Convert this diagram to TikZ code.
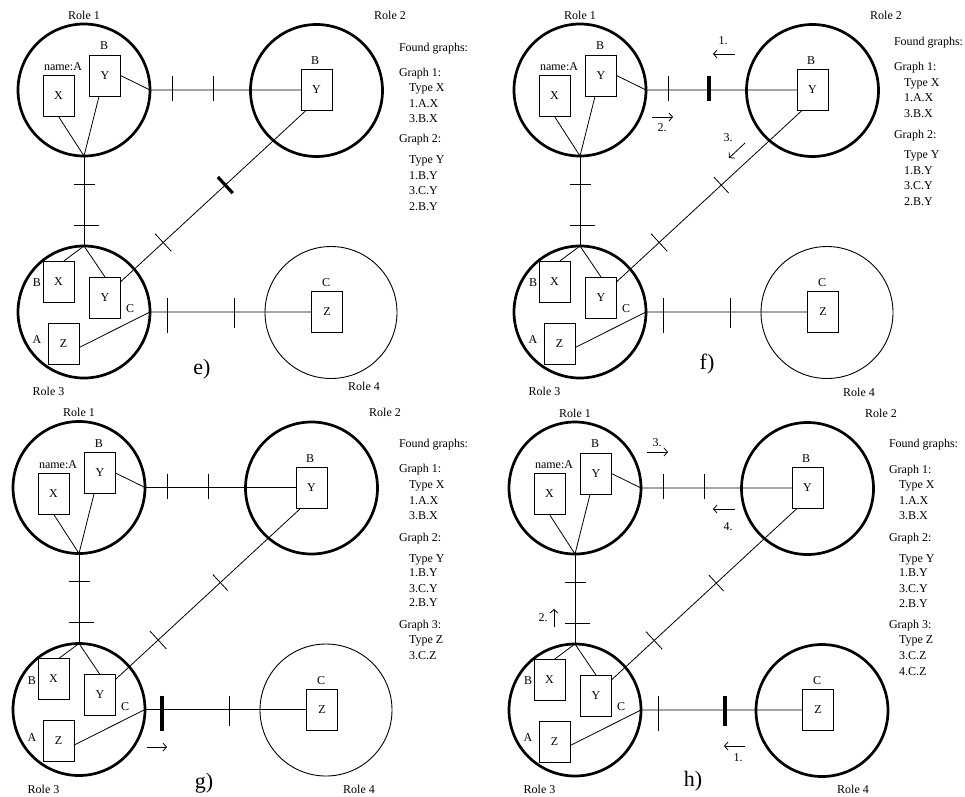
\documentclass[tikz,border=0pt]{standalone}
\usepackage{fontspec}
\setmainfont{Liberation Serif}
\usetikzlibrary{calc,arrows.meta}
\tikzset{
  rolebig/.style={circle, draw, inner sep=0pt, outer sep=0pt, minimum size=132pt, line width=2.7pt},
  rolethin/.style={circle, draw, inner sep=0pt, outer sep=0pt, minimum size=132pt, line width=0.9pt},
  typebox/.style={draw, line width=0.8pt, minimum width=31pt, minimum height=41pt, inner sep=0pt, outer sep=0pt, font=\fontsize{12}{14}\selectfont},
  lbl/.style={inner sep=0pt, outer sep=0pt, font=\fontsize{12}{14}\selectfont},
  txt/.style={inner sep=0pt, outer sep=0pt, anchor=base west, font=\fontsize{12}{14}\selectfont},
  plbl/.style={inner sep=0pt, outer sep=0pt, anchor=base, font=\fontsize{22}{24}\selectfont},
  conn/.style={line width=0.8pt},
  tkthin/.style={line width=0.8pt},
  tkthick/.style={line width=3.2pt},
  msg/.style={line width=0.8pt, -{Straight Barb[length=3.5pt,width=8pt]}}
}
% #1 prefix, #2 #3 shift, #4 #5 top ticks, #6 upper diagonal tick, #7 #8 bottom ticks, #9 circle 4 style
\newcommand\panel[9]{%
\begin{scope}[shift={(#2,#3)}]
  \node[rolebig] (#1c1) at (84,90) {};
  \node[rolebig] (#1c2) at (316.5,90.5) {};
  \node[rolebig] (#1c3) at (84,312) {};
  \node[#9] (#1c4) at (331,312.5) {};
  \node[lbl] (#1r1) at (84,15) {Role 1};
  \node[lbl] (#1r2) at (390,15) {Role 2};
  \node[lbl] (#1r3) at (48.5,391.5) {Role 3};
  \node[typebox] (#1x1) at (58.5,96) {X};
  \node[typebox] (#1y1) at (105,75.5) {Y};
  \node[typebox] (#1y2) at (316.5,90) {Y};
  \node[typebox] (#1x3) at (58.5,281.5) {X};
  \node[typebox] (#1y3) at (105,297.5) {Y};
  \node[typebox] (#1z3) at (63.5,343.5) {Z};
  \node[typebox] (#1z4) at (327,312) {Z};
  \node[lbl] (#1na) at (63,67) {name:A};
  \node[lbl] (#1b1) at (104,46) {B};
  \node[lbl] (#1b2) at (315,61) {B};
  \node[lbl] (#1b3) at (37,283) {B};
  \node[lbl] (#1cc3) at (130,309) {C};
  \node[lbl] (#1a3) at (37,340) {A};
  \node[lbl] (#1cc4) at (326,283) {C};
  % connectors
  \draw[conn] (#1x1.south) -- (#1c1.south);
  \draw[conn] ($(#1y1.south west)!0.31!(#1y1.south east)$) -- (#1c1.south);
  \draw[conn] (#1y1.east) -- (#1c1.east) -- (#1y2.west);
  \draw[conn] (#1c1.south) -- (#1c3.north);
  \draw[conn] (#1c3.north) -- ($(#1x3.north west)!0.67!(#1x3.north east)$);
  \draw[conn] (#1c3.north) -- (#1y3.north);
  \coordinate (#1d1) at ($(#1y2.south west)!0.16!(#1y2.south east)$);
  \coordinate (#1d2) at ($(#1y3.north east)!0.12!(#1y3.south east)$);
  \draw[conn] (#1d1) -- (#1d2);
  \draw[conn] ($(#1z3.north east)!0.6!(#1z3.south east)$) -- (#1c3.east) -- (#1z4.west);
  % ticks
  \draw[#4] ($(#1c1.east)+(22,-14)$) -- ($(#1c1.east)+(22,11)$);
  \draw[#5] ($(#1c1.east)+(63,-14)$) -- ($(#1c1.east)+(63,11)$);
  \draw[tkthin] ($(#1c1.south)+(-10,28)$) -- ($(#1c1.south)+(11,28)$);
  \draw[tkthin] ($(#1c1.south)+(-10,69)$) -- ($(#1c1.south)+(15,69)$);
  \coordinate (#1t1) at ($(#1d1)!0.435!(#1d2)$);
  \coordinate (#1t2) at ($(#1d1)!0.77!(#1d2)$);
  \draw[#6] ($(#1t1)!11pt!90:(#1d2)$) -- ($(#1t1)!11pt!-90:(#1d2)$);
  \draw[tkthin] ($(#1t2)!12pt!90:(#1d2)$) -- ($(#1t2)!12pt!-90:(#1d2)$);
  \draw[#7] ($(#1c3.east)+(17,-14)$) -- ($(#1c3.east)+(17,21)$);
  \draw[#8] ($(#1c3.east)+(84,-14)$) -- ($(#1c3.east)+(84,16)$);
\end{scope}}
\begin{document}
\begin{tikzpicture}[x=1pt,y=-1pt]
\useasboundingbox (0,0) rectangle (965,796);
\panel{e}{0}{0}{tkthin}{tkthin}{tkthick}{tkthin}{tkthin}{rolethin}
\panel{f}{496}{0}{tkthin}{tkthick}{tkthin}{tkthin}{tkthin}{rolethin}
\panel{g}{-5}{397.5}{tkthin}{tkthin}{tkthin}{tkthick}{tkthin}{rolethin}
\panel{h}{491}{398}{tkthin}{tkthin}{tkthin}{tkthin}{tkthick}{rolebig}
% Role 4 labels
\node[lbl] (er4) at (364,386) {Role 4};
\node[lbl] (fr4) at (859,392) {Role 4};
\node[lbl] (gr4) at (359,789) {Role 4};
\node[lbl] (hr4) at (853,789) {Role 4};
% panel letters
\node[plbl] (ep) at (202,374) {e)};
\node[plbl] (fp) at (707,369) {f)};
\node[plbl] (gp) at (204,788) {g)};
\node[plbl] (hp) at (693,786) {h)};
% found graphs e
\node[txt] (ef0) at (399,51) {Found graphs:};
\node[txt] (ef1) at (399,76) {Graph 1:};
\node[txt] (ef2) at (409,91) {Type X};
\node[txt] (ef3) at (409,107) {1.A.X};
\node[txt] (ef4) at (409,122) {3.B.X};
\node[txt] (ef5) at (399,142) {Graph 2:};
\node[txt] (ef6) at (409,163) {Type Y};
\node[txt] (ef7) at (409,179) {1.B.Y};
\node[txt] (ef8) at (409,194) {3.C.Y};
\node[txt] (ef9) at (409,210) {2.B.Y};
% found graphs f
\node[txt] (ff0) at (894,45) {Found graphs:};
\node[txt] (ff1) at (894,70) {Graph 1:};
\node[txt] (ff2) at (904,86) {Type X};
\node[txt] (ff3) at (904,101) {1.A.X};
\node[txt] (ff4) at (904,117) {3.B.X};
\node[txt] (ff5) at (894,138) {Graph 2:};
\node[txt] (ff6) at (904,158) {Type Y};
\node[txt] (ff7) at (904,174) {1.B.Y};
\node[txt] (ff8) at (904,189) {3.C.Y};
\node[txt] (ff9) at (904,205) {2.B.Y};
% found graphs g
\node[txt] (gf0) at (399,447) {Found graphs:};
\node[txt] (gf1) at (399,472) {Graph 1:};
\node[txt] (gf2) at (409,488) {Type X};
\node[txt] (gf3) at (409,504) {1.A.X};
\node[txt] (gf4) at (409,519) {3.B.X};
\node[txt] (gf5) at (399,541) {Graph 2:};
\node[txt] (gf6) at (409,562) {Type Y};
\node[txt] (gf7) at (409,576) {1.B.Y};
\node[txt] (gf8) at (409,592) {3.C.Y};
\node[txt] (gf9) at (409,606) {2.B.Y};
\node[txt] (gf10) at (399,628) {Graph 3:};
\node[txt] (gf11) at (409,643) {Type Z};
\node[txt] (gf12) at (409,659) {3.C.Z};
% found graphs h
\node[txt] (hf0) at (889,447) {Found graphs:};
\node[txt] (hf1) at (889,473) {Graph 1:};
\node[txt] (hf2) at (899,488) {Type X};
\node[txt] (hf3) at (899,504) {1.A.X};
\node[txt] (hf4) at (899,519) {3.B.X};
\node[txt] (hf5) at (889,541) {Graph 2:};
\node[txt] (hf6) at (899,562) {Type Y};
\node[txt] (hf7) at (899,576) {1.B.Y};
\node[txt] (hf8) at (899,592) {3.C.Y};
\node[txt] (hf9) at (899,607) {2.B.Y};
\node[txt] (hf10) at (889,628) {Graph 3:};
\node[txt] (hf11) at (899,643) {Type Z};
\node[txt] (hf12) at (899,659) {3.C.Z};
\node[txt] (hf13) at (899,675) {4.C.Z};
% message arrows f
\coordinate (fa1s) at (735,54); \coordinate (fa1e) at (713,54);
\draw[msg] (fa1s) -- (fa1e);
\node[lbl] (fn1) at (723,41) {1.};
\coordinate (fa2s) at (652,117); \coordinate (fa2e) at (673,117);
\draw[msg] (fa2s) -- (fa2e);
\node[lbl] (fn2) at (662,128) {2.};
\coordinate (fa3s) at (745,143); \coordinate (fa3e) at (729,158);
\draw[msg] (fa3s) -- (fa3e);
\node[lbl] (fn3) at (728,138) {3.};
% message arrow g
\coordinate (ga1s) at (147,747); \coordinate (ga1e) at (167,747);
\draw[msg] (ga1s) -- (ga1e);
% message arrows h
\coordinate (ha3s) at (647,452); \coordinate (ha3e) at (668,452);
\draw[msg] (ha3s) -- (ha3e);
\node[lbl] (hn3) at (657,443) {3.};
\coordinate (ha4s) at (735,509); \coordinate (ha4e) at (713,509);
\draw[msg] (ha4s) -- (ha4e);
\node[lbl] (hn4) at (728,527) {4.};
\coordinate (ha2s) at (554,627); \coordinate (ha2e) at (554,609);
\draw[msg] (ha2s) -- (ha2e);
\node[lbl] (hn2) at (543,618) {2.};
\coordinate (ha1s) at (745,746); \coordinate (ha1e) at (724,746);
\draw[msg] (ha1s) -- (ha1e);
\node[lbl] (hn1) at (738,758) {1.};
\end{tikzpicture}
\end{document}
